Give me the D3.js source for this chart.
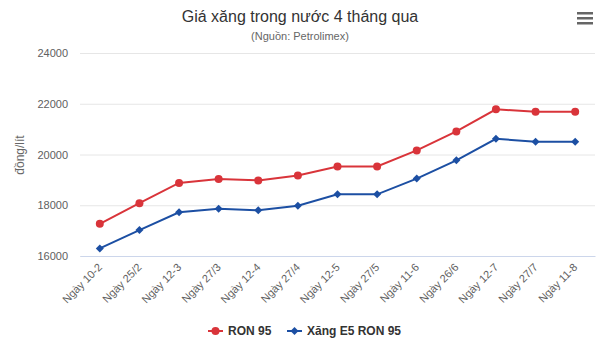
<!DOCTYPE html>
<html><head><meta charset="utf-8">
<script src="https://cdn.jsdelivr.net/npm/d3@7"></script>
<style>body{margin:0;background:#fff;} svg{font-family:"Liberation Sans",Arial,sans-serif;}</style>
</head><body>
<svg id="c" width="600" height="359"></svg>
<script>
const categories = ["Ngày 10-2","Ngày 25/2","Ngày 12-3","Ngày 27/3","Ngày 12-4","Ngày 27/4","Ngày 12-5","Ngày 27/5","Ngày 11-6","Ngày 26/6","Ngày 12-7","Ngày 27/7","Ngày 11-8"];
const ron95 = [17270,18080,18880,19030,18980,19170,19530,19530,20160,20910,21780,21680,21680];
const e5ron95 = [16300,17020,17720,17860,17800,17980,18430,18430,19050,19770,20620,20500,20500];
const yTicks = [16000,18000,20000,22000,24000];
const seriesNames = ["RON 95","Xăng E5 RON 95"];

const svg = d3.select("#c");
const L = 80, R = 595, T = 53, B = 256;
const x = d3.scaleBand().domain(categories).range([L, R]);
const y = d3.scaleLinear().domain([16000, 24000]).range([B, T]);
const red = "#d9343a", blue = "#1c4fa3";

// title
svg.append("text").attr("x", 300).attr("y", 22).attr("text-anchor","middle")
  .attr("font-size", 16).attr("fill","#333").text("Giá xăng trong nước 4 tháng qua");
svg.append("text").attr("x", 300).attr("y", 40).attr("text-anchor","middle")
  .attr("font-size", 11).attr("fill","#666").text("(Nguồn: Petrolimex)");

// menu icon
[0,5,10].forEach(d => svg.append("rect").attr("x",577).attr("y",12+d).attr("width",16).attr("height",2.5).attr("fill","#666"));

// grid
const gy = svg.append("g").attr("transform", `translate(${L},0)`)
  .call(d3.axisLeft(y).tickValues(yTicks).tickSize(-(R-L)).tickFormat(d3.format("d")).tickPadding(12));
gy.select(".domain").remove();
gy.selectAll(".tick line").attr("stroke","#e6e6e6");
gy.selectAll(".tick text").attr("fill","#606060").attr("font-size",11)
  .attr("font-family",'"Liberation Sans",Arial,sans-serif');

// x axis
const gx = svg.append("g").attr("transform", `translate(0,${B})`)
  .call(d3.axisBottom(x).tickSize(0).tickPadding(0));
gx.select(".domain").attr("stroke","#ccd6eb");
gx.selectAll(".tick text").attr("fill","#606060").attr("font-size",11)
  .attr("font-family",'"Liberation Sans",Arial,sans-serif')
  .attr("text-anchor","end").attr("dy",0).attr("transform","translate(3,12) rotate(-45)");

// y axis title
svg.append("text").attr("transform","translate(24,155) rotate(-90)").attr("text-anchor","middle")
  .attr("font-size",12).attr("fill","#666").text("đồng/lít");

const cx = d => x(d) + x.bandwidth()/2;
const line = d3.line().x((d,i)=>cx(categories[i])).y(d=>y(d));

svg.append("path").datum(ron95).attr("d", line).attr("fill","none").attr("stroke",red).attr("stroke-width",2);
svg.append("path").datum(e5ron95).attr("d", line).attr("fill","none").attr("stroke",blue).attr("stroke-width",2);
svg.append("g").selectAll("circle").data(ron95).join("circle")
  .attr("cx",(d,i)=>cx(categories[i])).attr("cy",d=>y(d)).attr("r",4).attr("fill",red);
const diamond = "M0,-4L4,0L0,4L-4,0Z";
svg.append("g").selectAll("path").data(e5ron95).join("path")
  .attr("d", diamond).attr("transform",(d,i)=>`translate(${cx(categories[i])},${y(d)})`).attr("fill",blue);

// legend
const lg = svg.append("g");
lg.append("line").attr("x1",208).attr("x2",223).attr("y1",331).attr("y2",331).attr("stroke",red).attr("stroke-width",2);
lg.append("circle").attr("cx",215.5).attr("cy",331).attr("r",4).attr("fill",red);
lg.append("text").attr("x",228).attr("y",335).attr("font-size",12).attr("font-weight","bold").attr("fill","#333").text(seriesNames[0]);
lg.append("line").attr("x1",287).attr("x2",302).attr("y1",331).attr("y2",331).attr("stroke",blue).attr("stroke-width",2);
lg.append("path").attr("d",diamond).attr("transform","translate(294.5,331)").attr("fill",blue);
lg.append("text").attr("x",307).attr("y",335).attr("font-size",12).attr("font-weight","bold").attr("fill","#333").text(seriesNames[1]);
</script>
</body></html>
